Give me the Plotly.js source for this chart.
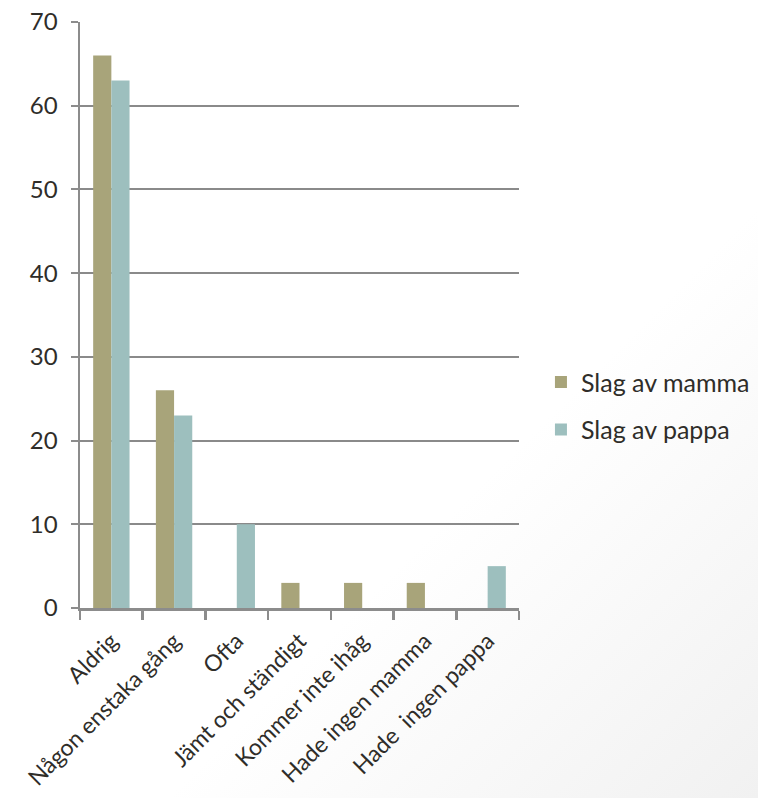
<!DOCTYPE html>
<html>
<head>
<meta charset="utf-8">
<script src="https://cdn.plot.ly/plotly-3.0.1.min.js"></script>
<style>
html,body{margin:0;padding:0;}
#chart{width:758px;height:798px;background:linear-gradient(135deg,#ffffff 0%,#ffffff 62%,#f1f1f1 100%);}
</style>
</head>
<body>
<div id="chart"></div>
<script>
const categories = ["Aldrig","Någon enstaka gång","Ofta","Jämt och ständigt","Kommer inte ihåg","Hade ingen mamma","Hade  ingen pappa"];
const mamma = [66, 26, 0, 3, 3, 3, 0];
const pappa = [63, 23, 10, 0, 0, 0, 5];
const seriesNames = ["Slag av mamma","Slag av pappa"];
const yTicks = [0,10,20,30,40,50,60,70];

const fontFam = "Lato, 'Open Sans', sans-serif";
const textCol = "#2f2d29";

const data = [
  {type:"bar", name:seriesNames[0], x:categories, y:mamma, marker:{color:"#a8a47a"}, legendgroup:"a", hoverinfo:"x+y"},
  {type:"bar", name:seriesNames[1], x:categories, y:pappa, marker:{color:"#9dbfbe"}, legendgroup:"b", hoverinfo:"x+y"}
];

const layout = {
  width:758, height:798,
  paper_bgcolor:"rgba(0,0,0,0)", plot_bgcolor:"rgba(0,0,0,0)",
  margin:{l:80, r:239, t:22, b:190, autoexpand:false},
  barmode:"group", bargap:0.42, bargroupgap:0,
  font:{family:fontFam, size:23, color:textCol},
  showlegend:true,
  legend:{x:1.05, xanchor:"left", y:0.345, yanchor:"middle", traceorder:"grouped", tracegroupgap:12,
          font:{family:fontFam, size:25, color:textCol}, bgcolor:"rgba(0,0,0,0)", itemwidth:30},
  xaxis:{type:"category", tickangle:-45, showline:true, linecolor:"#8c8c8c", linewidth:2.5,
         ticks:"outside", ticklen:9, tickwidth:2.5, tickcolor:"#8c8c8c", tickson:"boundaries",
         showgrid:false, zeroline:false, ticklabelstandoff:8, tickfont:{family:fontFam, size:23, color:textCol}},
  yaxis:{range:[0,70], tickvals:yTicks, showline:true, linecolor:"#8c8c8c", linewidth:2.5,
         ticks:"outside", ticklen:7, tickwidth:2, tickcolor:"#8c8c8c",
         showgrid:true, gridcolor:"#8a8a8a", gridwidth:2, zeroline:false,
         ticklabelstandoff:8, tickfont:{family:fontFam, size:24, color:textCol}}
};

Plotly.newPlot("chart", data, layout, {displayModeBar:false, staticPlot:true});
</script>
</body>
</html>
